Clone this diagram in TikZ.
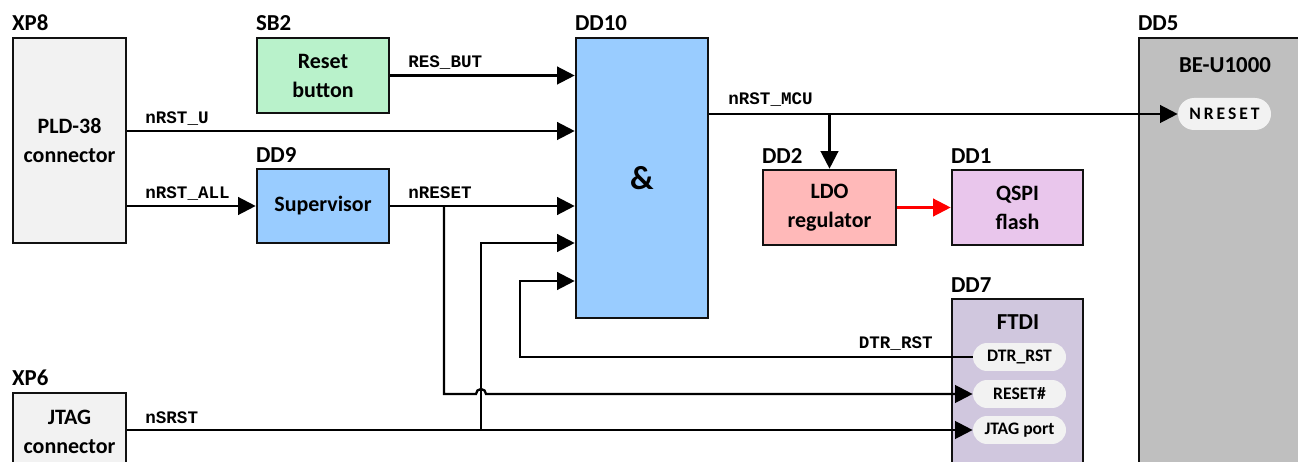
\documentclass[tikz,border=0pt]{standalone}
\usepackage{fontspec}
\setmainfont{Carlito}
\setmonofont{Liberation Mono}
\usetikzlibrary{
  positioning,
  arrows.meta,
  calc,
}
\definecolor{border}{HTML}{111111}
\definecolor{fillConn}{HTML}{F2F2F2}
\definecolor{fillBtn}{HTML}{B9F2CB}
\definecolor{fillLogic}{HTML}{99CCFF}
\definecolor{fillLdo}{HTML}{FFB9B9}
\definecolor{fillFlash}{HTML}{E9C6EC}
\definecolor{fillMcu}{HTML}{BFBFBF}
\definecolor{fillFtdi}{HTML}{D0C7DE}
\definecolor{fillPill}{HTML}{F2F2F2}
\definecolor{pwrCol}{HTML}{FF0000}
\tikzset{
  block/.style={
    rectangle, draw=border, fill=fillConn, line width=1.5pt, align=center,
    font=\fontsize{12.5}{16.5}\selectfont\bfseries, inner sep=2pt,
  },
  pill/.style={
    rectangle, rounded corners=0.28cm, fill=fillPill, minimum width=1.86cm,
    minimum height=0.56cm, font=\fontsize{10}{11}\selectfont\bfseries, inner sep=1pt,
  },
  tag/.style={anchor=south west, inner sep=0pt, yshift=3pt, font=\fontsize{13}{14}\selectfont\bfseries},
  sig/.style={-{Triangle[length=10pt,width=10pt]}, line width=1.3pt},
  sigl/.style={anchor=base west, inner sep=0pt, font=\fontsize{10}{12}\selectfont\ttfamily\bfseries},
}

\begin{document}
\begin{tikzpicture}[x=0.02cm, y=-0.02cm]

  \useasboundingbox (0,0) rectangle (1298,462);
  \clip (0,0) rectangle (1298,462);

  % Blocks
  \node[block, minimum width=2.26cm, minimum height=4.1cm] (xp8) at (69.5,140.5) {PLD-38\\connector};
  \node[block, fill=fillBtn, minimum width=2.64cm, minimum height=1.5cm] (sb2) at (323,75.5) {Reset\\button};
  \node[block, fill=fillLogic, minimum width=2.64cm, minimum height=1.48cm] (dd9) at (323,206) {Supervisor};
  \node[block, fill=fillLogic, minimum width=2.64cm, minimum height=5.6cm] (dd10) at (642,178) {\fontsize{19}{20}\selectfont\&};
  \node[block, fill=fillLdo, minimum width=2.66cm, minimum height=1.5cm] (dd2) at (829.5,207.5) {LDO\\regulator};
  \node[block, fill=fillFlash, minimum width=2.62cm, minimum height=1.5cm] (dd1) at (1017.5,207.5) {QSPI\\flash};
  \node[block, fill=fillMcu, minimum width=4.02cm, minimum height=9.24cm] (dd5) at (1239.5,269) {};
  \node[block, fill=fillFtdi, minimum width=2.62cm, minimum height=4.02cm] (dd7) at (1017.5,399.5) {};
  \node[block, minimum width=2.26cm, minimum height=1.56cm] (xp6) at (69.5,432) {JTAG\\connector};

  % Designators
  \node[tag] (tXP8) at (xp8.north west) {XP8};
  \node[tag] (tSB2) at (sb2.north west) {SB2};
  \node[tag] (tDD9) at (dd9.north west) {DD9};
  \node[tag] (tDD10) at (dd10.north west) {DD10};
  \node[tag] (tDD2) at (dd2.north west) {DD2};
  \node[tag] (tDD1) at (dd1.north west) {DD1};
  \node[tag] (tDD5) at (dd5.north west) {DD5};
  \node[tag] (tDD7) at (dd7.north west) {DD7};
  \node[tag] (tXP6) at (xp6.north west) {XP6};

  % Chip titles and pins
  \node[font=\fontsize{13}{14}\selectfont\bfseries] (mcuT) at (1225,65) {BE-U1000};
  \node[font=\fontsize{13}{14}\selectfont\bfseries] (ftdiT) at (1018,322) {FTDI};
  \node[pill, minimum height=0.64cm, rounded corners=0.32cm] (nrst) at (1224.5,114) {N\,R\,E\,S\,E\,T};
  \node[pill] (dtr) at (1019.5,357) {DTR\_RST};
  \node[pill] (rst) at (1019.5,394) {RESET\#};
  \node[pill] (jtg) at (1019.5,430) {JTAG port};

  % Inputs of the AND gate
  \draw[sig] (sb2.east) -- (sb2.east -| dd10.west);
  \draw[sig] (xp8.east |- 0,131) -- (dd10.west |- 0,131);
  \draw[sig] (xp8.east |- dd9.west) -- (dd9.west);
  \draw[sig] (dd9.east) -- (dd9.east -| dd10.west);
  \coordinate (br) at (444,206);
  \coordinate (jmp) at (481,394);
  \draw[sig] (jmp |- jtg.west) |- (dd10.west |- 0,243);
  \draw[sig] (dtr.west) -| (520,281) -- (dd10.west |- 0,281);

  % Outputs
  \draw[sig] (br) |- ([xshift=-0.1cm]jmp) arc[start angle=180, end angle=0, radius=0.1cm] -- (rst.west);
  \draw[sig] (xp6.east |- jtg.west) -- (jtg.west);
  \draw[sig] (dd10.east |- nrst.west) -- (nrst.west);
  \draw[sig] (dd2.north |- nrst.west) -- (dd2.north);
  \draw[sig, pwrCol] (dd2.east) -- (dd1.west);

  % Net names
  \node[sigl] (nRes) at (408,68) {RES\_BUT};
  \node[sigl] (nU) at (145,124) {nRST\_U};
  \node[sigl] (nAll) at (145,199) {nRST\_ALL};
  \node[sigl] (nSup) at (408,199) {nRESET};
  \node[sigl] (nMcu) at (728,105) {nRST\_MCU};
  \node[sigl, anchor=base east] (nDtr) at (933,349) {DTR\_RST};
  \node[sigl] (nJtag) at (145,423) {nSRST};

\end{tikzpicture}
\end{document}
